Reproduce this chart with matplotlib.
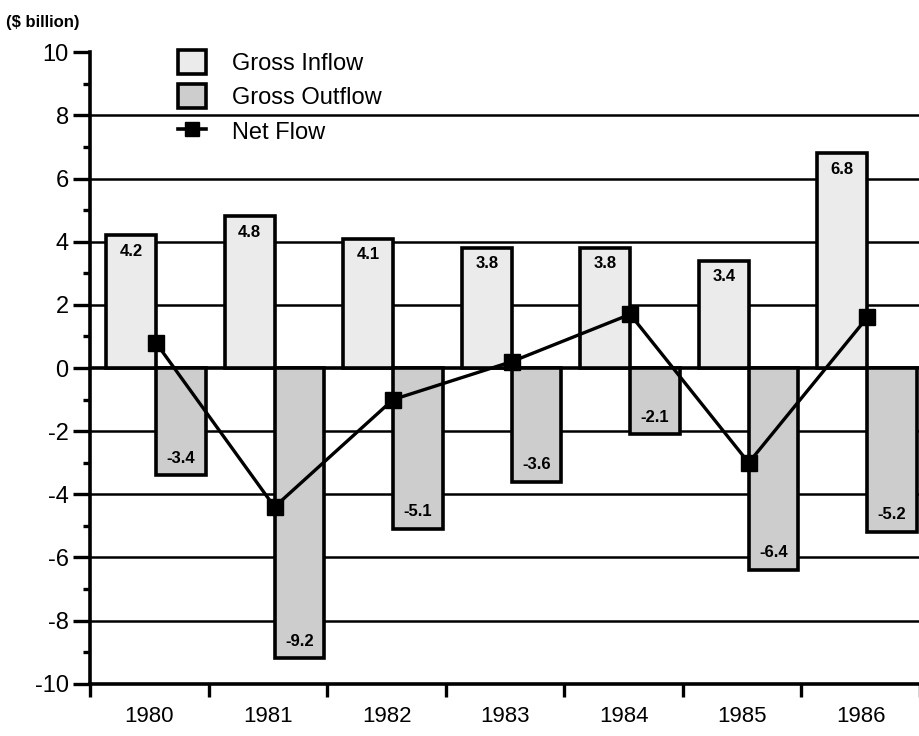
import matplotlib
matplotlib.use("Agg")
import matplotlib.pyplot as plt
from matplotlib.patches import Patch
from matplotlib.lines import Line2D
import numpy as np

plt.rcParams["font.family"] = ["Liberation Sans", "DejaVu Sans"]

# Дані з графіка
years = ["1980", "1981", "1982", "1983", "1984", "1985", "1986"]
gross_inflow = [4.2, 4.8, 4.1, 3.8, 3.8, 3.4, 6.8]
gross_outflow = [-3.4, -9.2, -5.1, -3.6, -2.1, -6.4, -5.2]
net_flow = [0.8, -4.4, -1.0, 0.2, 1.7, -3.0, 1.6]

inflow_color = "#ebebeb"
outflow_color = "#cdcdcd"


def draw_chart():
    fig = plt.figure(figsize=(9.2, 7.36), dpi=100)
    ax = fig.add_axes([0.098, 0.071, 0.902, 0.858])

    x = np.arange(len(years))
    w = 0.42
    split = 0.555

    # Сітка
    for v in [-8, -6, -4, -2, 2, 4, 6, 8]:
        ax.axhline(v, color="black", lw=1.8, zorder=1)
    ax.axhline(0, color="black", lw=2.6, zorder=1)

    ax.bar(x + split - w / 2, gross_inflow, width=w, color=inflow_color,
           edgecolor="black", linewidth=2.6, zorder=2)
    ax.bar(x + split + w / 2, gross_outflow, width=w, color=outflow_color,
           edgecolor="black", linewidth=2.6, zorder=2)

    for i in range(len(years)):
        ax.annotate(f"{gross_inflow[i]}", (x[i] + split - w / 2, gross_inflow[i]),
                    xytext=(0, -6), textcoords="offset points", ha="center",
                    va="top", fontsize=12, fontweight="bold", zorder=5)
        ax.annotate(f"{gross_outflow[i]}", (x[i] + split + w / 2, gross_outflow[i]),
                    xytext=(0, 7), textcoords="offset points", ha="center",
                    va="bottom", fontsize=12, fontweight="bold", zorder=5)

    ax.plot(x + split, net_flow, color="black", lw=2.4, marker="s",
            markersize=11, zorder=4)

    ax.set_xlim(0, len(years))
    ax.set_ylim(-10, 10)
    ax.set_xticks(np.arange(len(years) + 1))
    ax.set_xticklabels([])
    ax.set_xticks(x + 0.5, minor=True)
    ax.set_xticklabels(years, minor=True, fontsize=16)
    ax.tick_params(axis="x", which="major", direction="out", length=9, width=2.4)
    ax.tick_params(axis="x", which="minor", length=0, pad=16)

    ax.set_yticks(np.arange(-10, 11, 2))
    ax.set_yticklabels([str(v) for v in range(-10, 11, 2)], fontsize=17)
    ax.set_yticks(np.arange(-9, 10, 2), minor=True)
    ax.tick_params(axis="y", which="major", direction="out", length=12, width=2.4)
    ax.tick_params(axis="y", which="minor", direction="out", length=5, width=2.4)

    for s in ["top", "right"]:
        ax.spines[s].set_visible(False)
    ax.spines["left"].set_linewidth(2.6)
    ax.spines["bottom"].set_linewidth(2.6)

    fig.text(0.006, 0.969, "($ billion)", fontsize=12, fontweight="bold",
             va="center")

    handles = [
        Patch(facecolor=inflow_color, edgecolor="black", linewidth=2.6),
        Patch(facecolor=outflow_color, edgecolor="black", linewidth=2.6),
        Line2D([], [], color="black", lw=2.6, marker="s", markersize=10),
    ]
    fig.legend(handles, ["Gross Inflow", "Gross Outflow", "Net Flow"],
               loc="upper left", bbox_to_anchor=(0.175, 0.955), frameon=False,
               fontsize=17, handlelength=1.2, handleheight=1.2,
               labelspacing=0.4, handletextpad=1.1, borderpad=0.2)

    fig.savefig("out.png", dpi=100)


def main():
    draw_chart()


if __name__ == "__main__":
    main()
